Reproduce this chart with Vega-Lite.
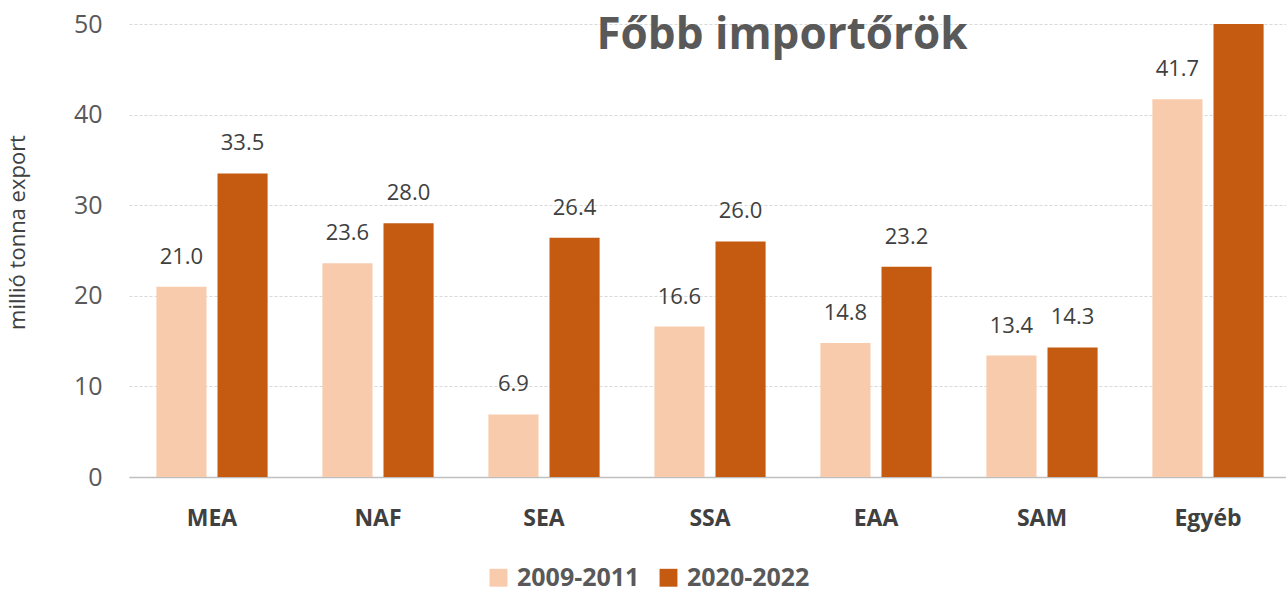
{
  "$schema": "https://vega.github.io/schema/vega-lite/v6.json",
  "autosize": {"type": "none"},
  "padding": {"left": 129, "top": 24, "right": 0, "bottom": 116},
  "width": 1162,
  "height": 453,
  "background": "white",
  "title": {
    "text": "Főbb importőrök",
    "font": "Open Sans",
    "fontSize": 44,
    "fontWeight": "bold",
    "color": "#595959",
    "anchor": "middle",
    "dx": 72,
    "offset": -46,
    "baseline": "top"
  },
  "data": {
    "values": [
      {"region": "MEA", "period": "2009-2011", "value": 21.0},
      {"region": "MEA", "period": "2020-2022", "value": 33.5},
      {"region": "NAF", "period": "2009-2011", "value": 23.6},
      {"region": "NAF", "period": "2020-2022", "value": 28.0},
      {"region": "SEA", "period": "2009-2011", "value": 6.9},
      {"region": "SEA", "period": "2020-2022", "value": 26.4},
      {"region": "SSA", "period": "2009-2011", "value": 16.6},
      {"region": "SSA", "period": "2020-2022", "value": 26.0},
      {"region": "EAA", "period": "2009-2011", "value": 14.8},
      {"region": "EAA", "period": "2020-2022", "value": 23.2},
      {"region": "SAM", "period": "2009-2011", "value": 13.4},
      {"region": "SAM", "period": "2020-2022", "value": 14.3},
      {"region": "Egyéb", "period": "2009-2011", "value": 41.7},
      {"region": "Egyéb", "period": "2020-2022", "value": 50.0}
    ]
  },
  "encoding": {
    "x": {
      "field": "region",
      "type": "nominal",
      "sort": null,
      "scale": {"paddingInner": 0.33, "paddingOuter": 0.165},
      "axis": {
        "title": null,
        "labelAngle": 0,
        "labelFont": "Open Sans",
        "labelFontSize": 23,
        "labelFontWeight": "bold",
        "labelColor": "#404040",
        "labelPadding": 30,
        "ticks": false,
        "domainColor": "#BFBFBF",
        "domainWidth": 1.5
      }
    },
    "xOffset": {
      "field": "period",
      "type": "nominal",
      "scale": {"paddingInner": 0.18, "paddingOuter": 0}
    },
    "y": {
      "field": "value",
      "type": "quantitative",
      "scale": {"domain": [0, 50], "nice": false},
      "axis": {
        "title": "millió tonna export",
        "titleFont": "Open Sans",
        "titleFontSize": 22,
        "titleFontWeight": "normal",
        "titleColor": "#404040",
        "titlePadding": 44,
        "titleY": 208,
        "values": [0, 10, 20, 30, 40, 50],
        "labelFont": "Open Sans",
        "labelFontSize": 25,
        "labelColor": "#595959",
        "labelPadding": 27,
        "ticks": false,
        "domain": false,
        "gridColor": "#D9D9D9",
        "gridDash": [3, 2],
        "gridWidth": 1
      }
    }
  },
  "layer": [
    {
      "mark": {"type": "bar", "clip": true},
      "encoding": {
        "color": {
          "field": "period",
          "type": "nominal",
          "scale": {"domain": ["2009-2011", "2020-2022"], "range": ["#F8CBAD", "#C55A11"]},
          "legend": {
            "title": null,
            "orient": "none",
            "direction": "horizontal",
            "legendX": 357,
            "legendY": 541,
            "symbolType": "square",
            "symbolSize": 320,
            "symbolStrokeWidth": 0,
            "symbolOpacity": 1,
            "labelFont": "Open Sans",
            "labelFontSize": 25,
            "labelFontWeight": "bold",
            "labelColor": "#595959",
            "columnPadding": 16,
            "labelOffset": 6
          }
        }
      }
    },
    {
      "transform": [{"filter": "datum.value < 50"}],
      "mark": {
        "type": "text",
        "dy": -30,
        "font": "Open Sans",
        "fontSize": 22,
        "color": "#404040"
      },
      "encoding": {
        "text": {"field": "value", "type": "quantitative", "format": ".1f"}
      }
    }
  ],
  "config": {
    "view": {"stroke": null}
  }
}
